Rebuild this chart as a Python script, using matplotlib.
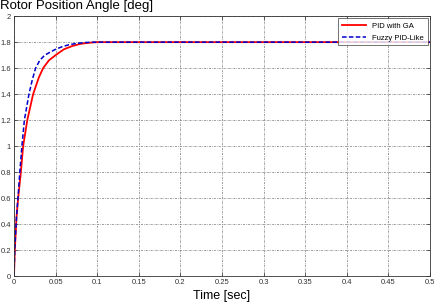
import numpy as np
import matplotlib
matplotlib.use("Agg")
import matplotlib.pyplot as plt

# Step responses
t_ga = [0, 0.001, 0.003, 0.005, 0.008, 0.011, 0.016, 0.023, 0.030, 0.035,
        0.042, 0.050, 0.060, 0.070, 0.080, 0.090, 0.100, 0.5]
y_ga = [0, 0.2, 0.45, 0.6, 0.78, 1.0, 1.2, 1.4, 1.53, 1.6,
        1.66, 1.7, 1.745, 1.77, 1.787, 1.795, 1.8, 1.8]

t_fz = [0, 0.001, 0.003, 0.005, 0.007, 0.0095, 0.0125, 0.018, 0.022, 0.026,
        0.031, 0.037, 0.044, 0.050, 0.058, 0.066, 0.075, 0.085, 0.095, 0.5]
y_fz = [0, 0.22, 0.45, 0.62, 0.8, 1.0, 1.2, 1.4, 1.51, 1.6,
        1.66, 1.7, 1.725, 1.745, 1.765, 1.78, 1.79, 1.797, 1.8, 1.8]

x_ticks = [0, 0.05, 0.1, 0.15, 0.2, 0.25, 0.3, 0.35, 0.4, 0.45, 0.5]
x_labels = ["0", "0.05", "0.1", "0.15", "0.2", "0.25", "0.3", "0.35", "0.4", "0.45", "0.5"]
y_ticks = [0, 0.2, 0.4, 0.6, 0.8, 1, 1.2, 1.4, 1.6, 1.8, 2]
y_labels = ["0", "0.2", "0.4", "0.6", "0.8", "1", "1.2", "1.4", "1.6", "1.8", "2"]

plt.rcParams['font.family'] = ['Liberation Sans', 'DejaVu Sans']

fig = plt.figure(figsize=(4.37, 3.05), dpi=100)
ax = fig.add_axes([0.032, 0.095, 0.952, 0.852])

ax.plot(t_ga, y_ga, color='red', linewidth=1.3, label='PID with GA')
ax.plot(t_fz, y_fz, color='#0000cc', linewidth=1.1, linestyle=(0, (3, 1.5)),
        label='Fuzzy PID-Like')

ax.set_xlim(0, 0.5)
ax.set_ylim(0, 2)
ax.set_xticks(x_ticks)
ax.set_xticklabels(x_labels)
ax.set_yticks(y_ticks)
ax.set_yticklabels(y_labels)
ax.tick_params(direction='in', length=3, width=0.5, labelsize=5.5, pad=2,
               top=True, right=True, colors='#333333')
ax.grid(True, color='#777777', linestyle=(0, (3, 1.5, 1, 1.5)), linewidth=0.5)
for s in ax.spines.values():
    s.set_linewidth(0.6)
    s.set_color('#333333')

fig.text(0.0, 1.0, 'Rotor Position Angle [deg]', fontsize=9.5, va='top', ha='left')
ax.set_xlabel('Time [sec]', fontsize=9, labelpad=3)

leg = ax.legend(loc='upper right', fontsize=5.5, frameon=True, fancybox=False,
                handlelength=3.2, borderpad=0.5, labelspacing=0.6,
                borderaxespad=0.3)
leg.get_frame().set_edgecolor('#333333')
leg.get_frame().set_linewidth(0.6)

fig.savefig('out.png', dpi=100)
